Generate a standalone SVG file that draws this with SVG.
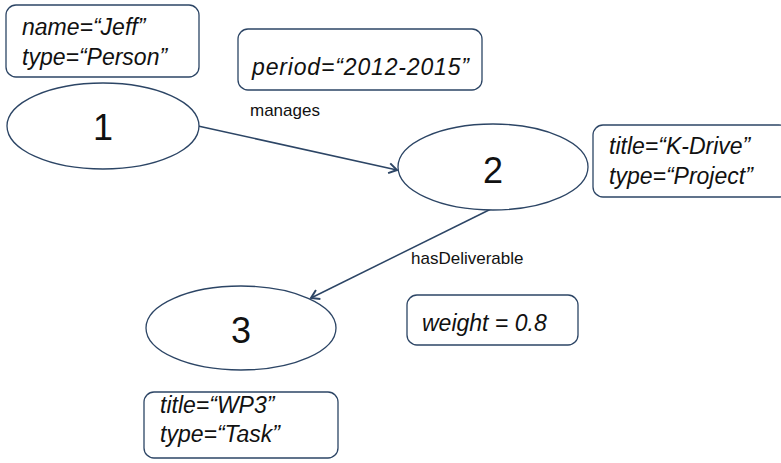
<svg xmlns="http://www.w3.org/2000/svg" width="781" height="463" viewBox="0 0 781 463">
  <style>
    .box { fill: #ffffff; stroke: #2c4565; stroke-width: 1.3; }
    .node { fill: #ffffff; stroke: #2c4565; stroke-width: 1.3; }
    .edge { fill: none; stroke: #2c4565; stroke-width: 1.5; }
    .attr { font-family: "Liberation Sans", Arial, sans-serif; font-style: italic; font-size: 23px; fill: #111111; }
    .num { font-family: "Liberation Sans", Arial, sans-serif; font-size: 36px; fill: #111111; text-anchor: middle; }
    .lbl { font-family: "Liberation Sans", Arial, sans-serif; font-size: 17px; fill: #111111; }
  </style>
  <defs>
    <marker id="arrow" markerWidth="12" markerHeight="12" refX="10" refY="6" orient="auto" markerUnits="userSpaceOnUse">
      <polyline points="2,1 10,6 2,11" fill="none" stroke="#2c4565" stroke-width="2"/>
    </marker>
  </defs>
  <rect width="781" height="463" fill="#ffffff"/>

  <g id="connectors">
    <line class="edge" x1="198" y1="126" x2="397" y2="170" marker-end="url(#arrow)"/>
    <line class="edge" x1="491" y1="209" x2="311" y2="298" marker-end="url(#arrow)"/>
  </g>

  <g id="edge-label-manages">
    <rect class="box" x="238" y="29" width="244" height="61" rx="10"/>
    <text class="attr" x="252" y="75" textLength="217" lengthAdjust="spacing">period=“2012-2015”</text>
    <text class="lbl" x="250" y="116">manages</text>
  </g>

  <g id="edge-label-hasDeliverable">
    <text class="lbl" x="411" y="264">hasDeliverable</text>
    <rect class="box" x="407" y="295" width="171" height="50" rx="10"/>
    <text class="attr" x="422" y="331">weight = 0.8</text>
  </g>

  <g id="node-1">
    <rect class="box" x="6" y="5" width="193" height="72" rx="10"/>
    <text class="attr" x="22" y="35">name=“Jeff”</text>
    <text class="attr" x="22" y="65">type=“Person”</text>
    <ellipse class="node" cx="103" cy="126" rx="96" ry="43"/>
    <text class="num" x="103" y="140">1</text>
  </g>

  <g id="node-2">
    <ellipse class="node" cx="493" cy="167" rx="95" ry="43"/>
    <text class="num" x="493" y="183">2</text>
    <rect class="box" x="593" y="125" width="196" height="72" rx="10"/>
    <text class="attr" x="609" y="154">title=“K-Drive”</text>
    <text class="attr" x="609" y="184">type=“Project”</text>
  </g>

  <g id="node-3">
    <ellipse class="node" cx="241" cy="328" rx="95" ry="42"/>
    <text class="num" x="241" y="343">3</text>
    <rect class="box" x="144" y="392" width="194" height="66" rx="10"/>
    <text class="attr" x="160" y="413">title=“WP3”</text>
    <text class="attr" x="160" y="442">type=“Task”</text>
  </g>
</svg>
